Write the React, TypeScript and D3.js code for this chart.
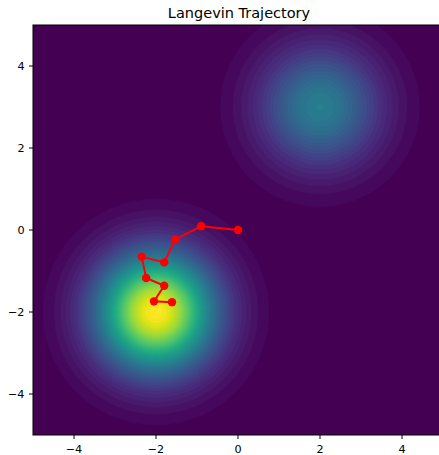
import React, { useMemo } from "react";
import * as d3 from "d3";

// Two-well Gaussian mixture density and a short Langevin sample path.
const wellCenters: [number, number][] = [[-2, -2], [2, 3]];
const wellWeights = [0.7, 0.3];
const wellSigma = 1;

const trajX = [0, -0.9, -1.53, -1.8, -2.35, -2.24, -1.8, -2.05, -1.61];
const trajY = [0, 0.09, -0.23, -0.79, -0.65, -1.17, -1.36, -1.74, -1.76];

const xTicks = [-4, -2, 0, 2, 4];
const yTicks = [-4, -2, 0, 2, 4];
const domain: [number, number] = [-5, 5];
const levelStep = 0.0025;

const W = 439;
const H = 455;
const left = 33;
const top = 25;
const size = 410;
const gridN = 240;

function density(x: number, y: number) {
  let s = 0;
  for (let k = 0; k < wellCenters.length; k++) {
    const [cx, cy] = wellCenters[k];
    const r2 = (x - cx) ** 2 + (y - cy) ** 2;
    s += (wellWeights[k] / (2 * Math.PI * wellSigma * wellSigma)) * Math.exp(-r2 / (2 * wellSigma * wellSigma));
  }
  return s;
}

const fmt = (v: number) => (v < 0 ? "\u2212" + Math.abs(v) : String(v));

export default function App() {
  const x = d3.scaleLinear().domain(domain).range([left, left + size]);
  const y = d3.scaleLinear().domain(domain).range([top + size, top]);

  const { bands, bg } = useMemo(() => {
    const values = new Array(gridN * gridN);
    const step = (domain[1] - domain[0]) / gridN;
    for (let j = 0; j < gridN; j++) {
      const yy = domain[1] - (j + 0.5) * step;
      for (let i = 0; i < gridN; i++) {
        const xx = domain[0] + (i + 0.5) * step;
        values[i + j * gridN] = density(xx, yy);
      }
    }
    const vmax = d3.max(values) as number;
    const nLevels = Math.ceil(vmax / levelStep);
    const levels = d3.range(nLevels + 1).map((i) => i * levelStep);
    const nBands = levels.length - 1;
    const color = (i: number) => d3.interpolateViridis(i / (nBands - 1));
    const gen = d3.contours().size([gridN, gridN]).thresholds(levels.slice(1, -1));
    const scale = size / gridN;
    const path = d3.geoPath(
      d3.geoTransform({
        point(px: number, py: number) {
          this.stream.point(left + px * scale, top + py * scale);
        },
      })
    );
    const polys = gen(values).map((c, idx) => ({ d: path(c) || "", fill: color(idx + 1) }));
    return { bands: polys, bg: color(0) };
  }, []);

  const line = d3
    .line<number>()
    .x((_, i) => x(trajX[i]))
    .y((_, i) => y(trajY[i]));

  return (
    <div style={{ position: "absolute", left: 0, top: 0 }}>
      <svg width={W} height={H} style={{ display: "block", fontFamily: "DejaVu Sans, sans-serif" }}>
        <rect width={W} height={H} fill="#ffffff" />
        <defs>
          <clipPath id="plot-area">
            <rect x={left} y={top} width={size} height={size} />
          </clipPath>
        </defs>
        <g clipPath="url(#plot-area)">
          <rect x={left} y={top} width={size} height={size} fill={bg} />
          {bands.map((b, i) => (
            <path key={i} d={b.d} fill={b.fill} stroke={b.fill} strokeWidth={0.3} />
          ))}
          <path d={line(trajX) || ""} fill="none" stroke="#ff0000" strokeWidth={2} />
          {trajX.map((v, i) => (
            <circle key={i} cx={x(v)} cy={y(trajY[i])} r={4.2} fill="#ff0000" />
          ))}
        </g>
        <rect x={left} y={top} width={size} height={size} fill="none" stroke="#000" strokeWidth={1} />
        {xTicks.map((t) => (
          <g key={"x" + t}>
            <line x1={x(t)} x2={x(t)} y1={top + size} y2={top + size + 4} stroke="#000" strokeWidth={1} />
            <text x={x(t)} y={top + size + 17.5} fontSize={11.2} textAnchor="middle" fill="#000">
              {fmt(t)}
            </text>
          </g>
        ))}
        {yTicks.map((t) => (
          <g key={"y" + t}>
            <line x1={left - 4} x2={left} y1={y(t)} y2={y(t)} stroke="#000" strokeWidth={1} />
            <text x={left - 8.5} y={y(t)} dy="0.36em" fontSize={11.2} textAnchor="end" fill="#000">
              {fmt(t)}
            </text>
          </g>
        ))}
        <text x={left + size / 2 + 1} y={18} fontSize={14.5} textAnchor="middle" fill="#000">
          Langevin Trajectory
        </text>
      </svg>
    </div>
  );
}
